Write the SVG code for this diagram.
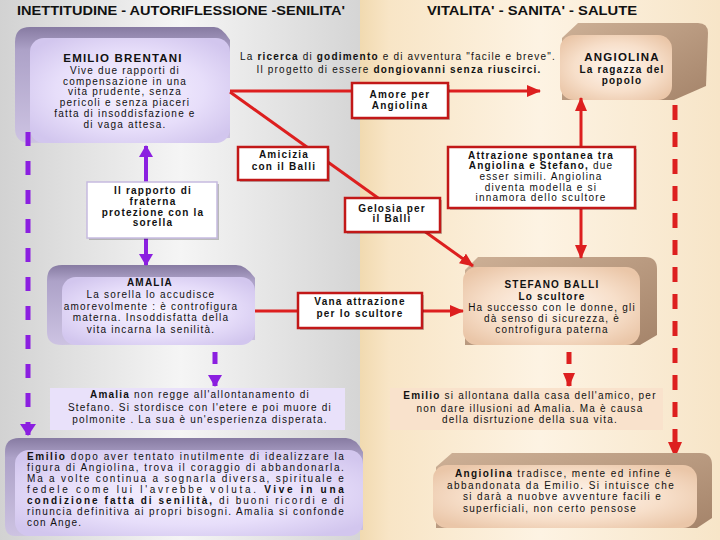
<svg xmlns="http://www.w3.org/2000/svg" width="720" height="540" viewBox="0 0 720 540">
<defs>
<linearGradient id="bgL" x1="0" y1="0" x2="1" y2="0"><stop offset="0" stop-color="#d2d2d2"/><stop offset="0.5" stop-color="#f5f5f5"/><stop offset="1" stop-color="#d5d5d5"/></linearGradient>
<linearGradient id="bgR" x1="0" y1="0" x2="1" y2="0"><stop offset="0" stop-color="#f1dab0"/><stop offset="0.08" stop-color="#f8e5c6"/><stop offset="0.5" stop-color="#fdf3e3"/><stop offset="1" stop-color="#f7e5c8"/></linearGradient>
<radialGradient id="lavF" cx="0.5" cy="0.5" r="0.62"><stop offset="0" stop-color="#f7f3ff"/><stop offset="0.6" stop-color="#e7defa"/><stop offset="1" stop-color="#d2c6ee"/></radialGradient>
<linearGradient id="lavB" x1="0" y1="0" x2="0" y2="1"><stop offset="0" stop-color="#877ba2"/><stop offset="0.2" stop-color="#ada2c8"/><stop offset="1" stop-color="#cdc3e2"/></linearGradient>
<radialGradient id="begF" cx="0.5" cy="0.5" r="0.62"><stop offset="0" stop-color="#fff7f0"/><stop offset="0.6" stop-color="#f7dfca"/><stop offset="1" stop-color="#eac6a8"/></radialGradient>
<linearGradient id="begB" x1="0" y1="0" x2="1" y2="1"><stop offset="0" stop-color="#cdb096"/><stop offset="1" stop-color="#a5846a"/></linearGradient>
<marker id="ar" markerUnits="userSpaceOnUse" markerWidth="14" markerHeight="12" viewBox="0 0 14 12" refX="13" refY="6" orient="auto-start-reverse"><path d="M0,0 L14,6 L0,12 Z" fill="#dd1f1f"/></marker>
<marker id="arB" markerUnits="userSpaceOnUse" markerWidth="16" markerHeight="14" viewBox="0 0 16 14" refX="15" refY="7" orient="auto-start-reverse"><path d="M0,0 L16,7 L0,14 Z" fill="#dd1f1f"/></marker>
<marker id="ap" markerUnits="userSpaceOnUse" markerWidth="12" markerHeight="14" viewBox="0 0 12 14" refX="11" refY="7" orient="auto-start-reverse"><path d="M0,0 L12,7 L0,14 Z" fill="#8b1fe0"/></marker>
<marker id="apB" markerUnits="userSpaceOnUse" markerWidth="12" markerHeight="16" viewBox="0 0 12 16" refX="11" refY="8" orient="auto-start-reverse"><path d="M0,0 L12,8 L0,16 Z" fill="#8b1fe0"/></marker>
</defs>
<style>
.t{font-family:"Liberation Sans",Arial,sans-serif;font-size:10px;letter-spacing:1.2px;fill:#111;text-anchor:middle}
.s{text-anchor:start}
.b{font-weight:bold}
.ti{font-size:11.5px}
.h{font-family:"Liberation Sans",Arial,sans-serif;font-size:12px;font-weight:bold;fill:#111}
.red{fill:none;stroke:#dd1f1f;stroke-width:3}
.rdash{fill:none;stroke:#dd1f1f;stroke-width:5}
.pur{fill:none;stroke:#8b1fe0;stroke-width:4}
.pdash{fill:none;stroke:#8b1fe0;stroke-width:5}
.lbl{fill:#fff;stroke:#c21818;stroke-width:2.5}
.sh{fill:#000;opacity:.22}
.lavF{fill:url(#lavF)}
.lavB{fill:url(#lavB)}
.begF{fill:url(#begF)}
.begB{fill:url(#begB)}
</style>

<rect x="0" y="0" width="360" height="540" fill="url(#bgL)"/>
<rect x="360" y="0" width="360" height="540" fill="url(#bgR)"/>

<text class="h" x="17" y="15" textLength="328" lengthAdjust="spacingAndGlyphs">INETTITUDINE - AUTORIFLESSIONE -SENILITA'</text>
<text class="h" x="427" y="15" textLength="210" lengthAdjust="spacingAndGlyphs">VITALITA' - SANITA' - SALUTE</text>

<g id="emilio">
<path class="lavB" d="M15,42 Q15,27 30,27 L214,27 Q222,27 230,40 L230,138 L30,143 Q15,143 15,128 Z"/>
<rect class="lavF" x="30" y="38" width="200" height="105" rx="14"/>
<text class="t b ti" x="123" y="62">EMILIO BRENTANI</text>
<text class="t" x="125" y="74">Vive due rapporti di</text>
<text class="t" x="125" y="84.7">compensazione in una</text>
<text class="t" x="125" y="95.4">vita prudente, senza</text>
<text class="t" x="125" y="106.1">pericoli e senza piaceri</text>
<text class="t" x="125" y="116.8">fatta di insoddisfazione e</text>
<text class="t" x="125" y="127.5">di vaga attesa.</text>
</g>

<g id="angiolina">
<path class="begB" d="M562,38 L578,23 L698,23 Q708,23 708,33 L706,86 L674,100 L562,100 Z"/>
<rect class="begF" x="560" y="35" width="112" height="65" rx="14"/>
<text class="t b ti" x="622" y="61">ANGIOLINA</text>
<text class="t b" x="622" y="73">La ragazza del</text>
<text class="t b" x="622" y="84">popolo</text>
</g>

<g id="amalia">
<path class="lavB" d="M47,280 Q47,265 62,265 L236,265 Q246,265 255,278 L255,340 L62,345 Q47,345 47,332 Z"/>
<rect class="lavF" x="62" y="277" width="193" height="68" rx="14"/>
<text class="t b" x="150" y="286">AMALIA</text>
<text class="t" x="151" y="298">La sorella lo accudisce</text>
<text class="t" x="151" y="310">amorevolmente : è controfigura</text>
<text class="t" x="151" y="321">materna. Insoddisfatta della</text>
<text class="t" x="151" y="333">vita incarna la senilità.</text>
</g>

<g id="stefano">
<path class="begB" d="M465,270 L478,257 L645,257 Q657,257 657,269 L657,335 L640,345 L465,345 Z"/>
<rect class="begF" x="463" y="267" width="177" height="78" rx="14"/>
<text class="t b" x="552" y="288">STEFANO BALLI</text>
<text class="t b" x="552" y="300">Lo scultore</text>
<text class="t" x="552" y="311">Ha successo con le donne, gli</text>
<text class="t" x="552" y="322">dà senso di sicurezza, è</text>
<text class="t" x="552" y="333">controfigura paterna</text>
</g>

<g id="connectors">
<path class="red" d="M230,91 H540" marker-end="url(#ar)"/>
<path class="red" d="M230,92 L473,266" marker-end="url(#ar)"/>
<path class="red" d="M581,258 V98" marker-start="url(#ar)" marker-end="url(#ar)"/>
<path class="red" d="M255,311 H463" marker-end="url(#ar)"/>
<path class="rdash" d="M675,105 V457" stroke-dasharray="15 12" marker-end="url(#arB)"/>
<path class="pdash" d="M28,132 V435" stroke-dasharray="14 15" marker-end="url(#apB)"/>
<path class="pur" d="M146,146 V265" marker-start="url(#ap)" marker-end="url(#ap)"/>
<path class="pdash" d="M215,352 V386" stroke-dasharray="12 14" marker-end="url(#ap)"/>
<path class="rdash" d="M569,352 V386" stroke-dasharray="12 14" marker-end="url(#ar)"/>
</g>

<g id="amore">
<rect class="sh" x="354" y="85" width="96" height="35"/>
<rect class="lbl" x="352" y="83" width="96" height="35"/>
<text class="t b" x="400" y="98">Amore per</text>
<text class="t b" x="400" y="108.5">Angiolina</text>
</g>

<g id="ricerca">
<text class="t" x="398" y="60">La <tspan class="b">ricerca</tspan> di <tspan class="b">godimento</tspan> e di avventura "facile e breve".</text>
<text class="t" x="399" y="73">Il progetto di essere <tspan class="b">dongiovanni senza riuscirci.</tspan></text>
</g>

<g id="amicizia">
<rect class="sh" x="240" y="149" width="90" height="33"/>
<rect class="lbl" x="238" y="147" width="90" height="33"/>
<text class="t b" x="284" y="158">Amicizia</text>
<text class="t b" x="284" y="170">con il Balli</text>
</g>

<g id="gelosia">
<rect class="sh" x="347" y="200" width="95" height="34"/>
<rect class="lbl" x="345" y="198" width="95" height="34"/>
<text class="t b" x="392" y="212">Gelosia per</text>
<text class="t b" x="392" y="222">il Balli</text>
</g>

<g id="attrazione">
<rect class="sh" x="450" y="149" width="187" height="61"/>
<rect class="lbl" x="448" y="147" width="187" height="61"/>
<text class="t b" x="541" y="158.5">Attrazione spontanea tra</text>
<text class="t" x="541" y="169.2"><tspan class="b">Angiolina e Stefano,</tspan> due</text>
<text class="t" x="541" y="179.9">esser simili. Angiolina</text>
<text class="t" x="541" y="190.6">diventa modella e si</text>
<text class="t" x="541" y="201.3">innamora dello scultore</text>
</g>

<g id="rapporto">
<rect class="sh" x="89" y="184" width="130" height="56"/>
<rect x="87" y="182" width="130" height="56" fill="#fff" stroke="#c6bbe0" stroke-width="1.5"/>
<text class="t b" x="153" y="194">Il rapporto di</text>
<text class="t b" x="153" y="205">fraterna</text>
<text class="t b" x="153" y="216">protezione con la</text>
<text class="t b" x="153" y="226">sorella</text>
</g>

<g id="vana">
<rect class="sh" x="300" y="295" width="124" height="35"/>
<rect class="lbl" x="298" y="293" width="124" height="35"/>
<text class="t b" x="360" y="305">Vana attrazione</text>
<text class="t b" x="360" y="317">per lo scultore</text>
</g>

<g id="amalia-fine">
<rect x="50" y="388" width="295" height="42" fill="#e9e1fa"/>
<text class="t" x="200" y="398"><tspan class="b">Amalia</tspan> non regge all'allontanamento di</text>
<text class="t" x="200" y="410.5">Stefano. Si stordisce con l'etere e poi muore di</text>
<text class="t" x="200" y="423">polmonite . La sua è un'esperienza disperata.</text>
</g>

<g id="emilio-fine">
<rect x="390" y="388" width="273" height="42" fill="#f9e2cc"/>
<text class="t" x="530" y="399"><tspan class="b">Emilio</tspan> si allontana dalla casa dell'amico, per</text>
<text class="t" x="530" y="411.5">non dare illusioni ad Amalia. Ma è causa</text>
<text class="t" x="530" y="423">della disrtuzione della sua vita.</text>
</g>

<g id="emilio-conclusione">
<path class="lavB" d="M5,452 Q5,438 19,438 L346,438 Q356,438 363,452 L363,530 L15,536 Q5,536 5,524 Z"/>
<rect class="lavF" x="15" y="450" width="348" height="86" rx="14"/>
<text class="t s" x="27" y="460" textLength="318"><tspan class="b">Emilio</tspan> dopo aver tentato inutilmente di idealizzare la</text>
<text class="t s" x="27" y="471" textLength="318">figura di Angiolina, trova il coraggio di abbandonarla.</text>
<text class="t s" x="27" y="482" textLength="318">Ma a volte continua a sognarla diversa, spirituale e</text>
<text class="t s" x="27" y="493" textLength="318">fedele come lui l'avrebbe voluta. <tspan class="b">Vive in una</tspan></text>
<text class="t s" x="27" y="504" textLength="318"><tspan class="b">condizione fatta di senilità,</tspan> di buoni ricordi e di</text>
<text class="t s" x="27" y="515" textLength="318">rinuncia definitiva ai propri bisogni. Amalia si confonde</text>
<text class="t s" x="27" y="526">con Ange.</text>
</g>

<g id="angiolina-conclusione">
<path class="begB" d="M436,467 L452,453 L700,453 Q712,453 712,465 L712,518 L697,528 L436,528 Z"/>
<rect class="begF" x="433" y="465" width="264" height="63" rx="14"/>
<text class="t s" x="455" y="477" textLength="217"><tspan class="b">Angiolina</tspan> tradisce, mente ed infine è</text>
<text class="t s" x="447" y="488.5" textLength="228">abbandonata da Emilio. Si intuisce che</text>
<text class="t s" x="463" y="500" textLength="199">si darà a nuobve avventure facili e</text>
<text class="t s" x="463" y="511.5" textLength="174">superficiali, non certo pensose</text>
</g>
</svg>
